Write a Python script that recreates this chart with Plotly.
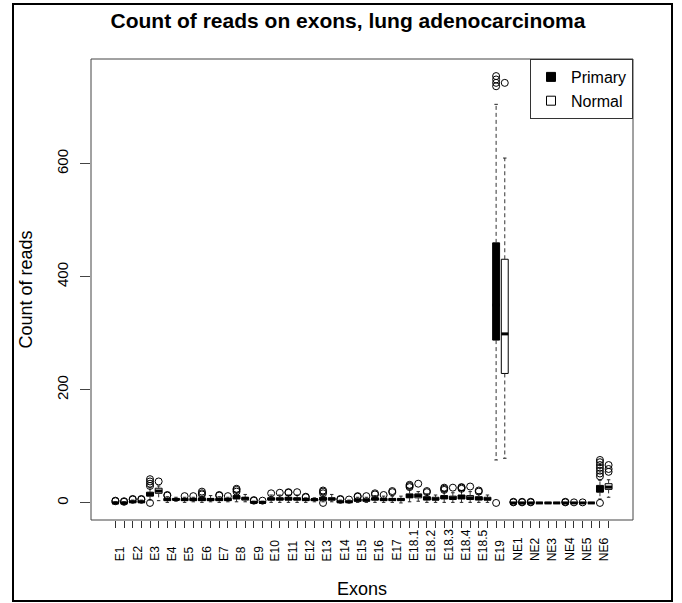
import plotly.graph_objects as go

labels = ["E1", "E2", "E3", "E4", "E5", "E6", "E7", "E8", "E9", "E10",
          "E11", "E12", "E13", "E14", "E15", "E16", "E17",
          "E18.1", "E18.2", "E18.3", "E18.4", "E18.5", "E19",
          "NE1", "NE2", "NE3", "NE4", "NE5", "NE6"]

# Primary (tumour) box statistics
p_q1 = [0, 1, 12, 4, 4, 4, 4, 7, 0, 5, 5, 4, 5, 1, 3, 5, 4, 9, 5, 7, 7, 5, 288, 0, 0, 0, 0, 0, 19]
p_med = [0, 2, 15, 6, 6, 6, 6, 10, 1, 7, 7, 6, 7, 2, 5, 7, 6, 12, 8, 10, 10, 8, 350, 0, 0, 0, 0, 0, 22]
p_q3 = [1, 3, 19, 8, 8, 9, 8, 13, 2, 9, 10, 8, 10, 3, 7, 9, 8, 16, 11, 13, 14, 11, 460, 0, 0, 0, 0, 0, 31]
p_lo = [0, 0, 5, 1, 1, 1, 1, 2, 0, 1, 1, 1, 2, 0, 1, 1, 1, 2, 1, 1, 1, 1, 76, 0, 0, 0, 0, 0, 7]
p_hi = [2, 5, 27, 11, 10, 12, 11, 18, 3, 14, 14, 9, 14, 5, 10, 13, 12, 25, 16, 20, 22, 16, 705, 0, 0, 0, 0, 0, 40]
p_out = [[3, 4], [6, 7], [0, 30, 34, 38, 42], [13, 14], [12], [15, 17, 20], [13, 14],
         [20, 23, 25], [4, 5], [17], [18, 19], [10, 11], [0, 17, 20, 22], [6, 7], [11, 12],
         [15, 17], [19, 21], [28, 30, 32], [19, 21], [23, 25, 27], [25, 27, 28], [20, 22],
         [0, 737, 743, 749, 755], [1, 2], [1, 2], [], [1, 2], [1],
         [0, 47, 52, 57, 62, 67, 72, 76]]

# Normal tissue box statistics
n_q1 = [0, 1, 17, 5, 4, 4, 4, 5, 0, 5, 5, 4, 5, 1, 3, 4, 4, 9, 5, 6, 6, 5, 229, 0, 0, 0, 0, 0, 24]
n_med = [0, 2, 21, 6, 6, 6, 6, 8, 1, 7, 7, 6, 7, 2, 5, 6, 6, 13, 7, 9, 9, 7, 299, 0, 0, 0, 0, 0, 28]
n_q3 = [1, 3, 26, 8, 8, 8, 8, 10, 1, 9, 9, 7, 9, 3, 7, 8, 8, 16, 10, 12, 13, 10, 431, 0, 0, 0, 0, 0, 34]
n_lo = [0, 0, 4, 3, 2, 2, 2, 2, 0, 1, 1, 2, 2, 0, 1, 1, 0, 3, 1, 1, 1, 1, 79, 0, 0, 0, 0, 0, 10]
n_hi = [2, 5, 30, 10, 10, 13, 10, 15, 3, 14, 14, 9, 15, 5, 10, 12, 12, 20, 14, 18, 20, 14, 610, 0, 0, 0, 0, 0, 41]
n_out = [[2, 3], [6, 7], [38], [], [12], [], [12], [], [4], [18], [19], [], [], [6], [12],
         [14], [], [34], [], [27], [29], [], [743], [1, 2], [], [], [1], [], [55, 60, 67]]

series_names = ["Primary", "Normal"]
y_ticks = [0, 200, 400, 600]

FONT = "Liberation Sans, Arial, Helvetica, sans-serif"
BOXW = 0.8
n = len(labels)
p_x = [2 * i + 1 for i in range(n)]
n_x = [2 * i + 2 for i in range(n)]
centers = [2 * i + 1.5 for i in range(n)]


def whisker_path(xs, q1, q3, lo, hi):
    X, Y = [], []
    for x, a, b, l, h in zip(xs, q1, q3, lo, hi):
        X += [x, x, None, x, x, None]
        Y += [b, h, None, a, l, None]
    return X, Y


def staple_path(xs, lo, hi, half=BOXW / 4):
    X, Y = [], []
    for x, l, h in zip(xs, lo, hi):
        X += [x - half, x + half, None, x - half, x + half, None]
        Y += [h, h, None, l, l, None]
    return X, Y


def median_path(xs, med, half=BOXW / 2):
    X, Y = [], []
    for x, m in zip(xs, med):
        X += [x - half, x + half, None]
        Y += [m, m, None]
    return X, Y


def outlier_pts(xs, outs):
    X, Y = [], []
    for x, o in zip(xs, outs):
        for v in o:
            X.append(x)
            Y.append(v)
    return X, Y


fig = go.Figure()

groups = [
    (p_x, p_q1, p_med, p_q3, p_lo, p_hi, p_out, "black"),
    (n_x, n_q1, n_med, n_q3, n_lo, n_hi, n_out, "white"),
]

for xs, q1, med, q3, lo, hi, outs, fill in groups:
    wx, wy = whisker_path(xs, q1, q3, lo, hi)
    fig.add_trace(go.Scatter(x=wx, y=wy, mode="lines", showlegend=False, hoverinfo="skip",
                             line=dict(color="#333333", width=1, dash="4px,3px")))
    sx, sy = staple_path(xs, lo, hi)
    fig.add_trace(go.Scatter(x=sx, y=sy, mode="lines", showlegend=False, hoverinfo="skip",
                             line=dict(color="#222222", width=1)))

for xs, q1, med, q3, lo, hi, outs, fill in groups:
    fig.add_trace(go.Box(x=xs, q1=q1, median=med, q3=q3, lowerfence=q1, upperfence=q3,
                         width=BOXW, whiskerwidth=0, fillcolor=fill,
                         line=dict(color="black", width=1), boxpoints=False,
                         showlegend=False, hoverinfo="skip"))
    mx, my = median_path(xs, med)
    fig.add_trace(go.Scatter(x=mx, y=my, mode="lines", showlegend=False, hoverinfo="skip",
                             line=dict(color="black", width=3)))
    ox, oy = outlier_pts(xs, outs)
    fig.add_trace(go.Scatter(x=ox, y=oy, mode="markers", showlegend=False, hoverinfo="skip",
                             marker=dict(symbol="circle-open", size=7, color="black",
                                         line=dict(width=1, color="black"))))

# legend entries
fig.add_trace(go.Scatter(x=[None], y=[None], mode="markers", name=series_names[0],
                         marker=dict(symbol="square", size=9, color="black",
                                     line=dict(color="black", width=1))))
fig.add_trace(go.Scatter(x=[None], y=[None], mode="markers", name=series_names[1],
                         marker=dict(symbol="square", size=9, color="white",
                                     line=dict(color="black", width=1))))

L, R, T, B = 91, 49, 59, 83
W, H = 682, 603
pw, ph = W - L - R, H - T - B

annotations = []
for c, lab in zip(centers, labels):
    annotations.append(dict(x=c, xref="x", y=(520 - 563) / ph, yref="paper", text=lab,
                            textangle=-90, showarrow=False, xanchor="center", yanchor="bottom",
                            font=dict(family=FONT, size=12, color="#000000")))

shapes = [
    dict(type="rect", xref="paper", yref="paper", x0=0, x1=1, y0=0, y1=1,
         line=dict(color="#444444", width=1), layer="above"),
    dict(type="rect", xref="paper", yref="paper",
         x0=(13 - L) / pw, x1=(672 - L) / pw, y0=(H - B - 601) / ph, y1=(H - B - 4) / ph,
         line=dict(color="black", width=2), layer="above"),
]

fig.update_layout(
    width=W, height=H,
    margin=dict(l=L, r=R, t=T, b=B, autoexpand=False),
    paper_bgcolor="white", plot_bgcolor="white",
    font=dict(family=FONT, color="black"),
    boxmode="overlay",
    title=dict(text="<b>Count of reads on exons, lung adenocarcinoma</b>",
               font=dict(family=FONT, size=21, color="black"),
               x=348 / W, xref="container", xanchor="center",
               y=1 - 21 / H, yref="container", yanchor="middle"),
    xaxis=dict(range=[-1.82, 60.82], showgrid=False, zeroline=False, showline=False,
               tickmode="array", tickvals=p_x + n_x, ticktext=[""] * (2 * n),
               ticks="outside", ticklen=7, tickcolor="#333333", tickwidth=1,
               title=dict(text="Exons", font=dict(family=FONT, size=18), standoff=52)),
    yaxis=dict(range=[-30.2, 785.2], showgrid=False, zeroline=False, showline=False,
               tickmode="array", tickvals=y_ticks, ticktext=[str(v) for v in y_ticks],
               tickangle=-90, ticks="outside", ticklen=10, tickcolor="#444444",
               ticklabelstandoff=6,
               tickfont=dict(family=FONT, size=15),
               title=dict(text="Count of reads", font=dict(family=FONT, size=18), standoff=16)),
    legend=dict(x=1, y=1, xanchor="right", yanchor="top", bgcolor="white",
                bordercolor="#333333", borderwidth=1, font=dict(family=FONT, size=16),
                itemwidth=30, tracegroupgap=0),
    annotations=annotations,
    shapes=shapes,
)

fig.write_html("out.html")
